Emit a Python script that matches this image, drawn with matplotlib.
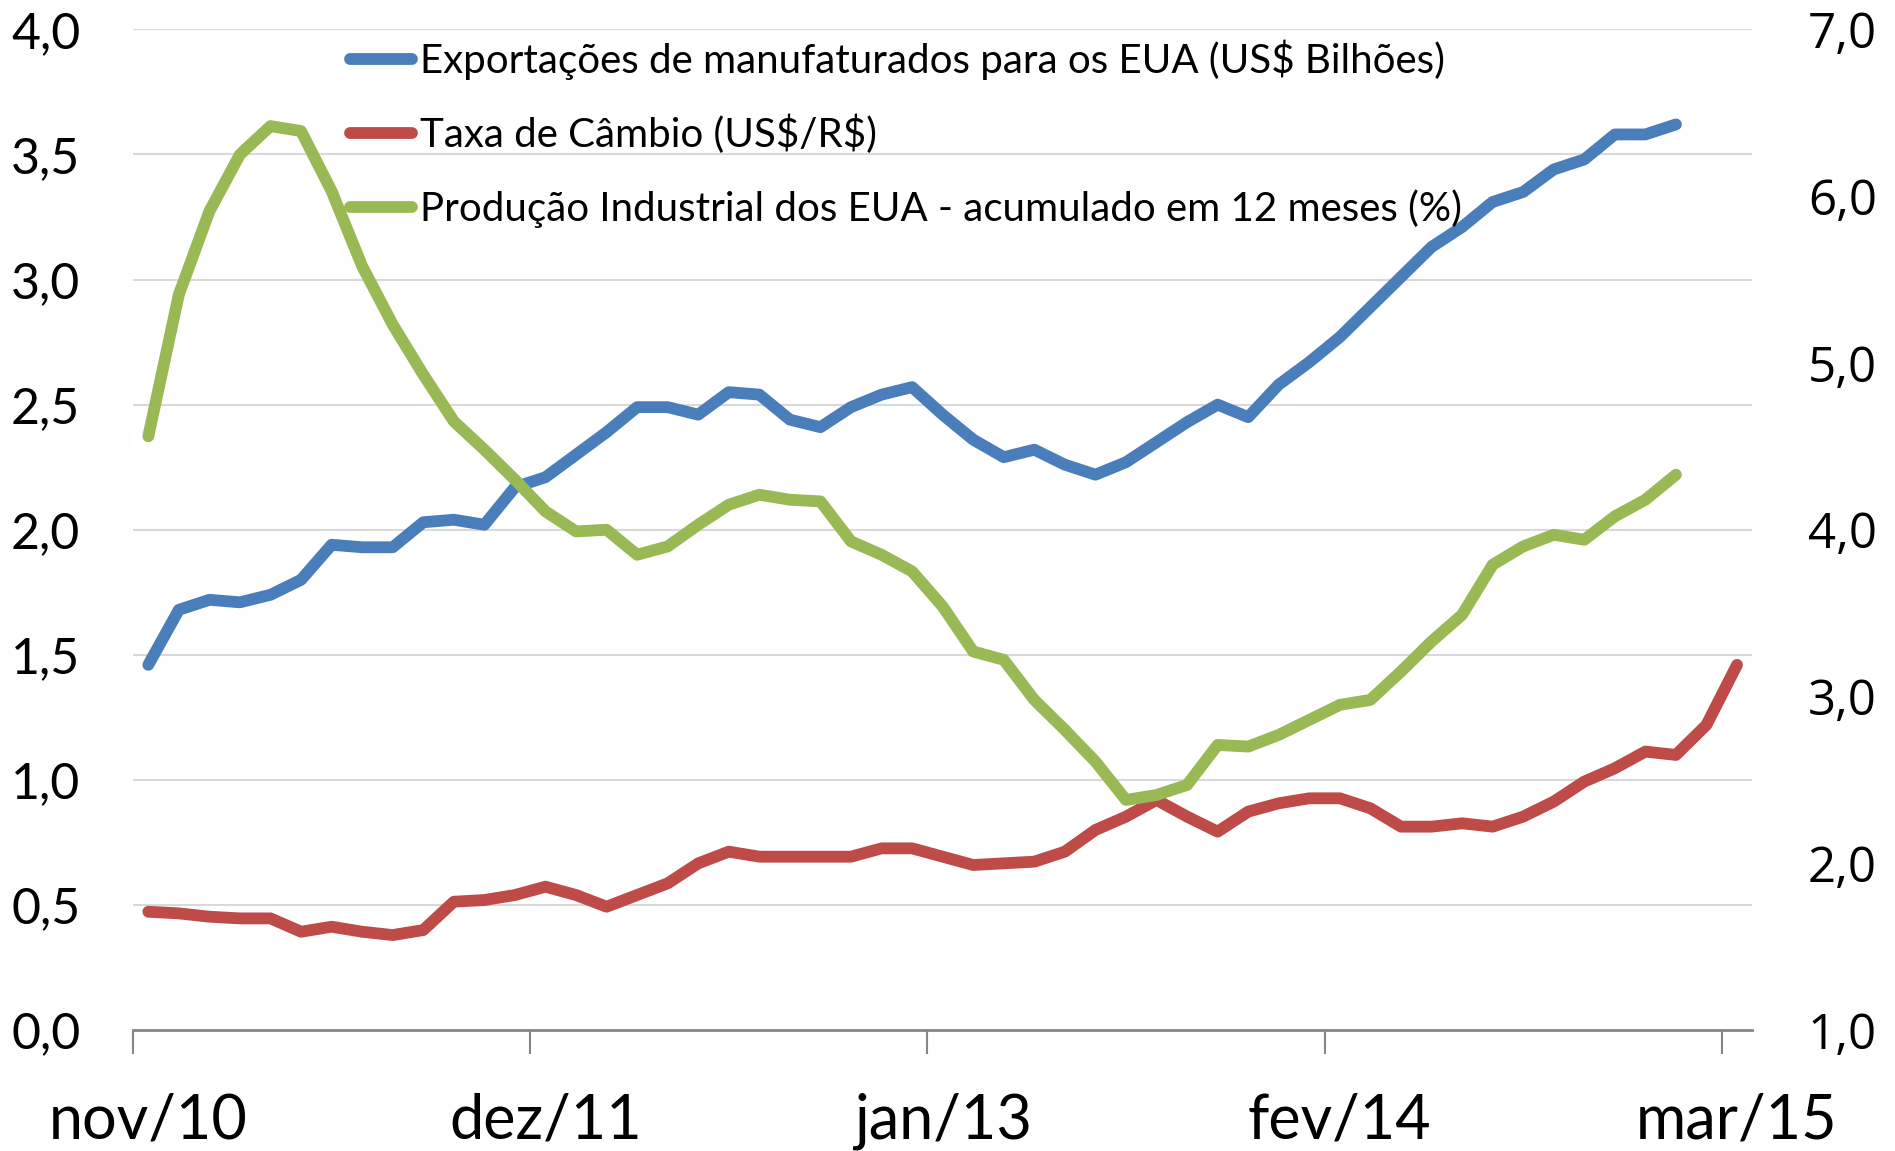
import numpy as np
import matplotlib.pyplot as plt
from matplotlib.ticker import FuncFormatter, MultipleLocator

# --------------------------------------------
# Meses (nov/10 .. mar/15)
# --------------------------------------------
meses = ['nov/10', 'dez/10',
         'jan/11', 'fev/11', 'mar/11', 'abr/11', 'mai/11', 'jun/11',
         'jul/11', 'ago/11', 'set/11', 'out/11', 'nov/11', 'dez/11',
         'jan/12', 'fev/12', 'mar/12', 'abr/12', 'mai/12', 'jun/12',
         'jul/12', 'ago/12', 'set/12', 'out/12', 'nov/12', 'dez/12',
         'jan/13', 'fev/13', 'mar/13', 'abr/13', 'mai/13', 'jun/13',
         'jul/13', 'ago/13', 'set/13', 'out/13', 'nov/13', 'dez/13',
         'jan/14', 'fev/14', 'mar/14', 'abr/14', 'mai/14', 'jun/14',
         'jul/14', 'ago/14', 'set/14', 'out/14', 'nov/14', 'dez/14',
         'jan/15', 'fev/15', 'mar/15']

# Exportacoes de manufaturados para os EUA (US$ bilhoes) - eixo esquerdo
exportacoes = [1.46, 1.68, 1.72, 1.71, 1.74, 1.80, 1.94, 1.93, 1.93, 2.03,
               2.04, 2.02, 2.17, 2.21, 2.30, 2.39, 2.49, 2.49, 2.46, 2.55,
               2.54, 2.44, 2.41, 2.49, 2.54, 2.57, 2.46, 2.36, 2.29, 2.32,
               2.26, 2.22, 2.27, 2.35, 2.43, 2.50, 2.45, 2.58, 2.67, 2.77,
               2.89, 3.01, 3.13, 3.21, 3.31, 3.35, 3.44, 3.48, 3.58, 3.58,
               3.62]

# Taxa de cambio - eixo direito
cambio = [1.71, 1.70, 1.68, 1.67, 1.67, 1.59, 1.62, 1.59, 1.57, 1.60,
          1.77, 1.78, 1.81, 1.86, 1.81, 1.74, 1.81, 1.88, 2.00, 2.07,
          2.04, 2.04, 2.04, 2.04, 2.09, 2.09, 2.04, 1.99, 2.00, 2.01,
          2.07, 2.20, 2.28, 2.38, 2.28, 2.19, 2.31, 2.36, 2.39, 2.39,
          2.33, 2.22, 2.22, 2.24, 2.22, 2.28, 2.37, 2.49, 2.57, 2.67,
          2.65, 2.83, 3.19]

# Producao industrial dos EUA, acumulado em 12 meses (%) - eixo direito
producao = [4.56, 5.41, 5.91, 6.25, 6.42, 6.39, 6.03, 5.58, 5.23, 4.93,
            4.65, 4.48, 4.30, 4.11, 3.99, 4.00, 3.85, 3.90, 4.03, 4.15,
            4.21, 4.18, 4.17, 3.93, 3.85, 3.75, 3.54, 3.27, 3.22, 2.98,
            2.80, 2.61, 2.38, 2.41, 2.47, 2.71, 2.70, 2.77, 2.86, 2.95,
            2.98, 3.15, 3.33, 3.49, 3.79, 3.90, 3.97, 3.94, 4.08, 4.18,
            4.33]

rotulos = ['Exportações de manufaturados para os EUA (US\\$ Bilhões)',
           'Taxa de Câmbio (US\\$/R\\$)',
           'Produção Industrial dos EUA - acumulado em 12 meses (%)']
cores = ['#4a7ebb', '#be4b48', '#98b954']

fonte = 'Lato'
virgula = FuncFormatter(lambda v, p: f'{v:.1f}'.replace('.', ','))

fig = plt.figure(figsize=(18.95, 11.51), dpi=100)
ax = fig.add_axes([0.0702, 0.105, 0.8545, 0.8695])
ax2 = ax.twinx()

x = np.arange(len(meses))
estilo = dict(lw=8.5, solid_capstyle='round', solid_joinstyle='round')
l1, = ax.plot(x[:len(exportacoes)], exportacoes, color=cores[0], label=rotulos[0], **estilo)
l2, = ax2.plot(x[:len(cambio)], cambio, color=cores[1], label=rotulos[1], **estilo)
l3, = ax2.plot(x[:len(producao)], producao, color=cores[2], label=rotulos[2], **estilo)

# eixo esquerdo
ax.set_ylim(0, 4)
ax.yaxis.set_major_locator(MultipleLocator(0.5))
ax.yaxis.set_major_formatter(virgula)
ax.grid(axis='y', color='#d9d9d9', lw=1.5)
ax.set_axisbelow(True)
ax.tick_params(axis='y', length=0, pad=38, labelsize=36, labelfontfamily=fonte)

# eixo direito
ax2.set_ylim(1, 7)
ax2.yaxis.set_major_locator(MultipleLocator(1))
ax2.yaxis.set_major_formatter(virgula)
ax2.tick_params(axis='y', length=0, pad=40, labelsize=35.5, labelfontfamily='Open Sans')

# eixo x: marcas entre categorias, rotulos a cada 13 meses
ax.set_xlim(-0.5, len(meses) - 0.5)
pos = list(range(0, len(meses), 13))
ax.set_xticks([p - 0.5 for p in pos])
ax.set_xticklabels([])
ax.set_xticks(pos, minor=True)
ax.set_xticklabels([meses[p] for p in pos], minor=True)
ax.tick_params(axis='x', which='major', length=17, width=1.5, color='#868686')
ax.tick_params(axis='x', which='minor', length=0, pad=45, labelsize=44,
               labelfontfamily=fonte)

for a in (ax, ax2):
    for s in ('top', 'left', 'right', 'bottom'):
        a.spines[s].set_visible(False)
ax.spines['bottom'].set_visible(True)
ax.spines['bottom'].set_color('#868686')
ax.spines['bottom'].set_linewidth(2)

ax2.legend(handles=[l1, l2, l3], loc='upper left',
           bbox_to_anchor=(350 / 1895, 0.966), bbox_transform=fig.transFigure,
           frameon=False, borderpad=0, borderaxespad=0,
           handlelength=1.55, handletextpad=0.2, labelspacing=0.87,
           prop={'family': fonte, 'size': 29})

fig.savefig('out.png', dpi=100)
